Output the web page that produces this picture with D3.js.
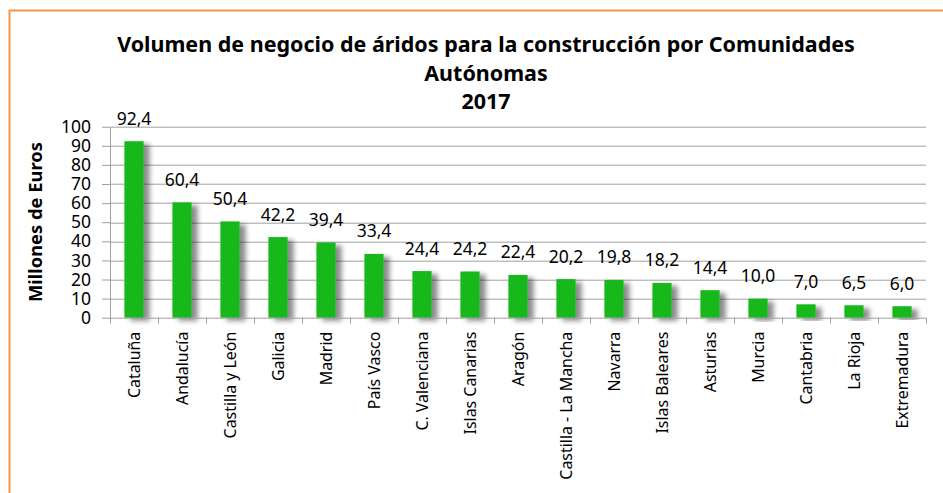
<!DOCTYPE html>
<html>
<head>
<meta charset="utf-8">
<script src="https://cdn.jsdelivr.net/npm/d3@7"></script>
<style>
  body { margin: 0; background: #fff; }
  svg { display: block; }
  text { font-family: "Noto Sans", sans-serif; fill: #000; }
  .title { font-family: "Noto Sans", sans-serif; font-weight: bold; }
</style>
</head>
<body>
<svg id="chart"></svg>
<script>
// Chart data
const regions = ['Cataluña', 'Andalucía', 'Castilla y León', 'Galicia', 'Madrid', 'País Vasco',
  'C. Valenciana', 'Islas Canarias', 'Aragón', 'Castilla - La Mancha', 'Navarra', 'Islas Baleares',
  'Asturias', 'Murcia', 'Cantabria', 'La Rioja', 'Extremadura'];
const values = [92.4, 60.4, 50.4, 42.2, 39.4, 33.4, 24.4, 24.2, 22.4, 20.2, 19.8, 18.2, 14.4, 10.0, 7.0, 6.5, 6.0];
const yTicks = [0, 10, 20, 30, 40, 50, 60, 70, 80, 90, 100];
const titleLines = ['Volumen de negocio de áridos para la construcción por Comunidades', 'Autónomas', '2017'];

const width = 943, height = 493;
const margin = {top: 126.7, right: 17, bottom: 175.3, left: 110};
const innerW = width - margin.left - margin.right;
const innerH = height - margin.top - margin.bottom;

const svg = d3.select('#chart').attr('width', width).attr('height', height);

// fit a text selection so its first node is `target` px long
function fitText(sel, base, target) {
  sel.style('font-size', base + 'px');
  const w = sel.node().getComputedTextLength();
  sel.style('font-size', (base * target / w).toFixed(2) + 'px');
}

// Orange frame (runs off the visible area)
svg.append('rect')
  .attr('x', 9.5).attr('y', 10.5)
  .attr('width', width + 20).attr('height', height + 20)
  .attr('fill', 'none').attr('stroke', '#F79646').attr('stroke-width', 2);

// Shadow filter for bars
const defs = svg.append('defs');
const f = defs.append('filter').attr('id', 'shadow')
  .attr('x', '-20%').attr('y', '-10%').attr('width', '200%').attr('height', '130%');
f.append('feDropShadow').attr('dx', 6).attr('dy', 3).attr('stdDeviation', 2.5)
  .attr('flood-color', '#000').attr('flood-opacity', 0.45);

const x = d3.scaleBand().domain(regions).range([0, innerW]).paddingInner(0.6).paddingOuter(0.3);
const xTicks = d3.scaleBand().domain(regions).range([0, innerW]);
const y = d3.scaleLinear().domain([0, 100]).range([innerH, 0]);

const g = svg.append('g').attr('transform', `translate(${margin.left},${margin.top})`);

// Gridlines
g.append('g').selectAll('line').data(yTicks.slice(1)).join('line')
  .attr('x1', 0).attr('x2', innerW)
  .attr('y1', d => Math.round(y(d)) + 0.5).attr('y2', d => Math.round(y(d)) + 0.5)
  .attr('stroke', '#A0A0A0').attr('stroke-width', 1);

// Bars
g.append('g').selectAll('rect').data(values).join('rect')
  .attr('x', (d, i) => x(regions[i]))
  .attr('y', d => y(d))
  .attr('width', x.bandwidth())
  .attr('height', d => innerH - y(d))
  .attr('fill', '#13B81F')
  .attr('filter', 'url(#shadow)');

// Y axis
const yAxis = d3.axisLeft(y).tickValues(yTicks).tickSize(8).tickSizeOuter(0).tickPadding(11)
  .tickFormat(d3.format('d'));
const yG = g.append('g').call(yAxis);
yG.selectAll('line, path').attr('stroke', '#A0A0A0');
yG.selectAll('text').style('font-family', '"Noto Sans", sans-serif').style('font-size', '17.5px').attr('fill', '#000');

// X axis: ticks at band boundaries
const xG = g.append('g').attr('transform', `translate(0,${innerH})`);
xG.append('line').attr('x1', 0).attr('x2', innerW).attr('y1', 0.5).attr('y2', 0.5).attr('stroke', '#A0A0A0');
xG.selectAll('.tk').data(regions.concat(['end'])).join('line')
  .attr('class', 'tk')
  .attr('x1', (d, i) => Math.round(i < regions.length ? xTicks(d) : innerW) + 0.5)
  .attr('x2', (d, i) => Math.round(i < regions.length ? xTicks(d) : innerW) + 0.5)
  .attr('y1', 0).attr('y2', 6)
  .attr('stroke', '#A0A0A0');

const labels = xG.selectAll('.lbl').data(regions).join('text')
  .attr('class', 'lbl')
  .attr('transform', d => `translate(${xTicks(d) + xTicks.bandwidth() / 2 + 6},14) rotate(-90)`)
  .attr('text-anchor', 'end')
  .text(d => d);
// size labels so "Castilla - La Mancha" is as long as in the reference
labels.style('font-size', '14px');
const longest = labels.filter(d => d === 'Castilla - La Mancha').node().getComputedTextLength();
labels.style('font-size', (14 * 148 / longest).toFixed(2) + 'px');

// Value labels
const fmt = v => d3.format('.1f')(v).replace('.', ',');
g.append('g').selectAll('text').data(values).join('text')
  .attr('x', (d, i) => xTicks(regions[i]) + xTicks.bandwidth() / 2)
  .attr('y', d => y(d) - 16.5)
  .attr('text-anchor', 'middle')
  .style('font-size', '17.5px')
  .text(d => fmt(d));

// Y axis title
const yTitle = svg.append('text')
  .attr('transform', `translate(42,222) rotate(-90)`)
  .attr('text-anchor', 'middle')
  .style('font-weight', 'bold')
  .text('Millones de Euros');
fitText(yTitle, 16, 160);

// Title, sized so the first line spans the same width as in the reference
const titles = svg.append('g').selectAll('text').data(titleLines).join('text')
  .attr('class', 'title')
  .attr('x', 486)
  .attr('y', (d, i) => 52 + i * 28.5)
  .attr('text-anchor', 'middle')
  .text(d => d);
fitText(titles, 20, 738);
</script>
</body>
</html>
